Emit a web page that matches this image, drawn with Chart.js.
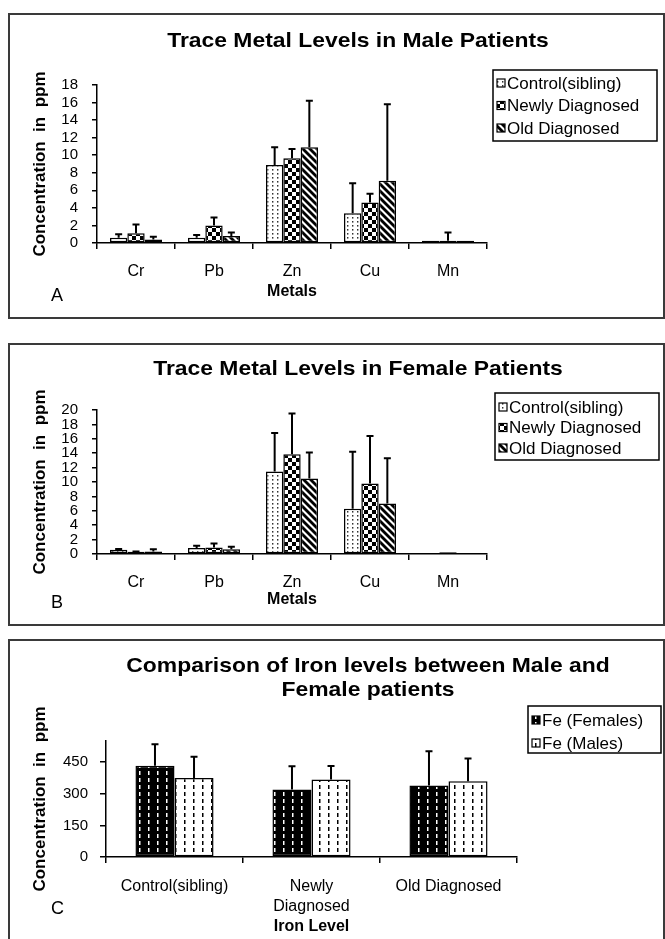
<!DOCTYPE html>
<html>
<head>
<meta charset="utf-8">
<script src="https://cdn.jsdelivr.net/npm/chart.js@4.4.1/dist/chart.umd.min.js"></script>
<style>
  html, body { margin: 0; padding: 0; background: #fff; }
  body { width: 665px; height: 939px; position: relative; overflow: hidden; font-family: 'Liberation Sans', Arial, sans-serif; }
  .frame { position: absolute; box-sizing: border-box; border: 2px solid #3a3a3a; }
  canvas { position: absolute; left: 0; }
  .title { position: absolute; font-weight: bold; font-size: 21px; line-height: 24px; text-align: center; color: #000; transform: scaleX(1.09); transform-origin: center; white-space: nowrap; }
  .letter { position: absolute; font-size: 18px; line-height: 20px; color: #000; }
</style>
</head>
<body>
<div class="frame" style="left:8px;top:13px;width:657px;height:306px;"></div>
<div class="frame" style="left:8px;top:343px;width:657px;height:283px;"></div>
<div class="frame" style="left:8px;top:639px;width:657px;height:310px;"></div>

<canvas id="chartA" width="665" height="320" style="top:0px;"></canvas>
<canvas id="chartB" width="665" height="300" style="top:330px;"></canvas>
<canvas id="chartC" width="665" height="309" style="top:630px;"></canvas>

<div class="title" style="left:108px;width:500px;top:28px;">Trace Metal Levels in Male Patients</div>
<div class="title" style="left:108px;width:500px;top:356px;">Trace Metal Levels in Female Patients</div>
<div class="title" style="left:118px;width:500px;top:653px;">Comparison of Iron levels between Male and<br>Female patients</div>
<div class="letter" style="left:51px;top:285px;">A</div>
<div class="letter" style="left:51px;top:592px;">B</div>
<div class="letter" style="left:51px;top:898px;">C</div>

<script>
// ---------------- DATA ----------------
const metals = ['Cr', 'Pb', 'Zn', 'Cu', 'Mn'];
const seriesNames = ['Control(sibling)', 'Newly Diagnosed', 'Old Diagnosed'];

// Panel A: males
const maleControl   = [0.6, 0.6, 8.9, 3.4, 0.25];
const maleControlSD = [0.4, 0.3, 2.0, 3.4, 0];
const maleNewly     = [1.1, 2.0, 9.65, 4.6, 0.25];
const maleNewlySD   = [1.0, 0.9, 1.05, 1.0, 0.95];
const maleOld       = [0.4, 0.8, 10.9, 7.1, 0.25];
const maleOldSD     = [0.3, 0.4, 5.3, 8.7, 0];
const yTicksA = [0, 2, 4, 6, 8, 10, 12, 14, 16, 18];

// Panel B: females
const femaleControl   = [0.6, 0.85, 11.45, 6.3, 0];
const femaleControlSD = [0.1, 0.3, 5.35, 7.9, 0];
const femaleNewly     = [0.3, 0.9, 13.85, 9.8, 0.25];
const femaleNewlySD   = [0.05, 0.55, 5.65, 6.6, 0];
const femaleOld       = [0.35, 0.65, 10.5, 7.0, 0];
const femaleOldSD     = [0.3, 0.35, 3.6, 6.3, 0];
const yTicksB = [0, 2, 4, 6, 8, 10, 12, 14, 16, 18, 20];

// Panel C: iron
const ironGroups = ['Control(sibling)', ['Newly', 'Diagnosed'], 'Old Diagnosed'];
const ironSeriesNames = ['Fe (Females)', 'Fe (Males)'];
const ironFemales   = [433, 320, 339];
const ironFemalesSD = [101, 110, 162];
const ironMales     = [375, 368, 359];
const ironMalesSD   = [100, 63, 108];
const yTicksC = [0, 150, 300, 450];

// ---------------- PATTERNS ----------------
function makeTile(w, h, draw) {
  const c = document.createElement('canvas');
  c.width = w; c.height = h;
  const g = c.getContext('2d');
  draw(g, w, h);
  return document.createElement('canvas').getContext('2d').createPattern(c, 'repeat');
}
const patDots = makeTile(5, 4, (g, w, h) => {
  g.fillStyle = '#fff'; g.fillRect(0, 0, w, h);
  g.fillStyle = '#333'; g.fillRect(2, 1, 1.4, 1.6);
});
const patChecker = makeTile(8, 8, (g, w, h) => {
  g.fillStyle = '#fff'; g.fillRect(0, 0, w, h);
  g.fillStyle = '#000'; g.fillRect(0, 0, 4, 4); g.fillRect(4, 4, 4, 4);
});
const patDiag = makeTile(7, 7, (g, w, h) => {
  g.fillStyle = '#fff'; g.fillRect(0, 0, w, h);
  g.strokeStyle = '#000'; g.lineWidth = 2.8;
  for (const o of [-7, 0, 7]) { g.beginPath(); g.moveTo(o - 1, -1); g.lineTo(o + 8, 8); g.stroke(); }
});
const patBlackDash = makeTile(9, 7, (g, w, h) => {
  g.fillStyle = '#000'; g.fillRect(0, 0, w, h);
  g.fillStyle = '#fff'; g.fillRect(4, 1, 1.5, 4);
});
const patWhiteDash = makeTile(9, 7, (g, w, h) => {
  g.fillStyle = '#fff'; g.fillRect(0, 0, w, h);
  g.fillStyle = '#000'; g.fillRect(4, 1, 1.5, 4);
});

// ---------------- PLUGINS ----------------
const errorBars = {
  id: 'errorBars',
  afterDatasetsDraw(chart) {
    const ctx = chart.ctx, y = chart.scales.y;
    chart.data.datasets.forEach((ds, di) => {
      const meta = chart.getDatasetMeta(di);
      meta.data.forEach((bar, i) => {
        const sd = ds.errors ? ds.errors[i] : 0;
        if (!sd) return;
        const top = y.getPixelForValue(ds.data[i] + sd);
        ctx.save();
        ctx.strokeStyle = '#000'; ctx.lineWidth = 2;
        ctx.beginPath();
        ctx.moveTo(bar.x, bar.y); ctx.lineTo(bar.x, top);
        ctx.moveTo(bar.x - 3.5, top); ctx.lineTo(bar.x + 3.5, top);
        ctx.stroke();
        ctx.restore();
      });
    });
  }
};
const boxLegend = {
  id: 'boxLegend',
  afterDraw(chart, args, o) {
    const ctx = chart.ctx;
    ctx.save();
    ctx.strokeStyle = '#000'; ctx.lineWidth = 1.5;
    ctx.strokeRect(o.x, o.y, o.w, o.h);
    ctx.font = o.font; ctx.textBaseline = 'middle';
    chart.data.datasets.forEach((ds, i) => {
      const cy = o.y + o.first + i * o.row;
      ctx.fillStyle = ds.backgroundColor;
      ctx.fillRect(o.x + 4, cy - 4, 8, 8);
      ctx.lineWidth = 1.2; ctx.strokeRect(o.x + 4, cy - 4, 8, 8);
      ctx.fillStyle = '#000';
      ctx.fillText(ds.label, o.x + 14, cy + 1);
    });
    ctx.restore();
  }
};

const FONT = "'Liberation Sans', Arial, sans-serif";

function makeChart(id, cfg) {
  const xWidthFix = cfg.xHeight, yWidthFix = cfg.yWidth;
  return new Chart(document.getElementById(id), {
    type: 'bar',
    data: { labels: cfg.labels, datasets: cfg.datasets },
    plugins: [errorBars, boxLegend],
    options: {
      responsive: false,
      animation: false,
      devicePixelRatio: 1,
      layout: { padding: cfg.padding },
      datasets: { bar: { categoryPercentage: cfg.catPct, barPercentage: 1.0, borderColor: '#000', borderWidth: 1.5, borderSkipped: false } },
      plugins: {
        legend: { display: false },
        tooltip: { enabled: false },
        title: { display: false },
        boxLegend: cfg.legend
      },
      scales: {
        x: {
          grid: { display: true, drawOnChartArea: false, drawTicks: true, tickLength: 6, color: '#000', lineWidth: 1.5, offset: true },
          border: { display: true, color: '#000', width: 1.5 },
          ticks: { color: '#000', font: { family: FONT, size: 16, lineHeight: 1.25 }, padding: cfg.xPad, maxRotation: 0, autoSkip: false },
          title: { display: true, text: cfg.xTitle, color: '#000', font: { family: FONT, size: 16, weight: 'bold', lineHeight: 1.2 }, padding: 0 },
          afterFit(s) { s.height = xWidthFix; }
        },
        y: {
          min: 0, max: cfg.yMax,
          grid: { display: true, drawOnChartArea: false, drawTicks: true, tickLength: cfg.yTickLen, color: '#000', lineWidth: 1.5 },
          border: { display: true, color: '#000', width: 1.5 },
          ticks: { color: '#000', font: { family: FONT, size: 15, lineHeight: 1.0 }, padding: cfg.yPad, autoSkip: false },
          afterBuildTicks(s) { s.ticks = cfg.yTicks.map(v => ({ value: v })); },
          title: { display: true, text: 'Concentration  in  ppm', color: '#000', font: { family: FONT, size: 17, weight: 'bold', lineHeight: 1.2 }, padding: 0 },
          afterFit(s) { s.width = yWidthFix; }
        }
      }
    }
  });
}

const legendFont = "17px " + FONT;

makeChart('chartA', {
  labels: metals,
  datasets: [
    { label: seriesNames[0], data: maleControl, errors: maleControlSD, backgroundColor: patDots },
    { label: seriesNames[1], data: maleNewly, errors: maleNewlySD, backgroundColor: patChecker },
    { label: seriesNames[2], data: maleOld, errors: maleOldSD, backgroundColor: patDiag }
  ],
  padding: { left: 30, right: 178, top: 85, bottom: 18.4 },
  yWidth: 67, xHeight: 58.6, catPct: 0.667, xPad: 13, yPad: 14, yTickLen: 5,
  yMax: 18, yTicks: yTicksA, xTitle: 'Metals',
  legend: { x: 493, y: 70, w: 164, h: 71, first: 13, row: 22.5, font: legendFont }
});

makeChart('chartB', {
  labels: metals,
  datasets: [
    { label: seriesNames[0], data: femaleControl, errors: femaleControlSD, backgroundColor: patDots },
    { label: seriesNames[1], data: femaleNewly, errors: femaleNewlySD, backgroundColor: patChecker },
    { label: seriesNames[2], data: femaleOld, errors: femaleOldSD, backgroundColor: patDiag }
  ],
  padding: { left: 30, right: 178, top: 80, bottom: 20.4 },
  yWidth: 67, xHeight: 55.6, catPct: 0.667, xPad: 13, yPad: 14, yTickLen: 5,
  yMax: 20, yTicks: yTicksB, xTitle: 'Metals',
  legend: { x: 495, y: 63, w: 164, h: 67, first: 14, row: 20.5, font: legendFont }
});

makeChart('chartC', {
  labels: ironGroups,
  datasets: [
    { label: ironSeriesNames[0], data: ironFemales, errors: ironFemalesSD, backgroundColor: patBlackDash },
    { label: ironSeriesNames[1], data: ironMales, errors: ironMalesSD, backgroundColor: patWhiteDash }
  ],
  padding: { left: 30, right: 148, top: 111, bottom: 2.4 },
  yWidth: 76, xHeight: 79.6, catPct: 0.57, xPad: 14, yPad: 12, yTickLen: 6,
  yMax: 550, yTicks: yTicksC, xTitle: 'Iron Level',
  legend: { x: 528, y: 76, w: 133, h: 47, first: 14, row: 23, font: legendFont }
});
</script>
</body>
</html>
